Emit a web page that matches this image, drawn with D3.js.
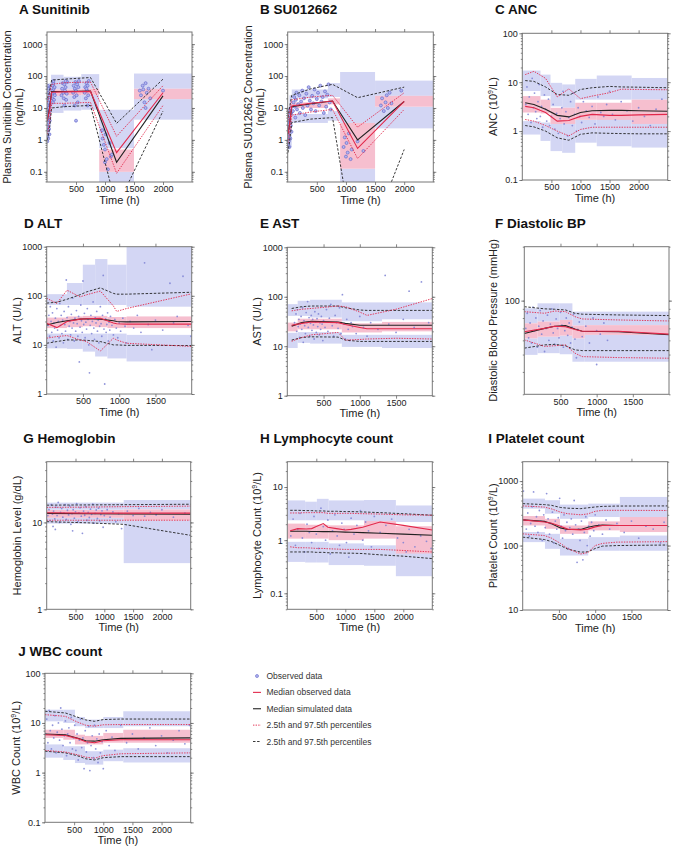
<!DOCTYPE html>
<html>
<head>
<meta charset="utf-8">
<script src="https://cdn.jsdelivr.net/npm/d3@7.9.0/dist/d3.min.js"></script>
<style>
  body { margin: 0; background: #fff; }
  text { font-family: "Liberation Sans", Arial, Helvetica, sans-serif; }
</style>
</head>
<body>
<script>
// ---------- A Sunitinib ----------
const sunitinibBins = [0, 30, 70, 285, 590, 900, 1500, 2500];
const sunitinibHiBand = [[12, 45], [20, 60], [38, 110], [38, 95], [40, 115], [0.55, 8.8], [40, 120]];
const sunitinibMedBand = [[4, 10], [8, 20], [24, 38], [25, 38], [26, 40], [0.1, 0.5], [19, 40]];
const sunitinibLoBand = [[1, 3], [2.5, 7], [7, 24], [8.3, 25], [8.8, 26], [0.03, 0.1], [4.3, 19]];
const sunitinibTimes = [5, 40, 80, 300, 750, 1200, 2000];
const sunitinibObsMedian = [4, 8, 31, 32, 33, 0.4, 30];
const sunitinibSimMedian = [4, 9, 33, 33, 34, 0.2, 24];
const sunitinibObsLow = [1.5, 3, 14, 14, 15, 0.09, 12];
const sunitinibObsHigh = [15, 25, 55, 62, 65, 1.3, 50];
const sunitinibSimLow = [1, 2, 10, 11, 12, 0.0076, 8];
const sunitinibSimHigh = [20, 30, 75, 80, 90, 3.3, 80];
const sunitinibPoints = [[2,5],[3,8],[5,3],[6,12],[8,2.5],[10,6],[12,20],[14,4],[15,9],[18,30],[20,2],[22,7],[24,15],[25,3.5],[28,45],[30,5],[32,10],[35,2.2],[38,6],[40,18],[42,1.5],[45,8],[48,4],[50,12],[55,25],[5,0.9],[10,1.2],[20,1.1],[30,40],[15,50],
  [90,20],[95,35],[100,50],[105,28],[110,60],[115,40],[120,18],[125,30],[130,45],[135,25],[100,15],[110,70],
  [250,25],[260,40],[270,60],[280,30],[290,20],[300,55],[310,35],[320,45],[330,18],[340,28],[350,65],[300,12],[320,70],
  [450,30],[460,50],[470,22],[480,40],[490,65],[500,35],[510,25],[520,55],[530,15],[540,45],[550,70],[500,4],[480,12],
  [650,30],[660,45],[670,20],[680,60],[690,35],[700,50],[710,25],[720,70],[700,12],[680,40],
  [950,2],[980,0.7],[1000,0.5],[1010,1.5],[1030,0.25],[1050,0.12],[1080,0.8],[1100,0.3],[1120,0.35],[1000,0.2],[960,1.1],
  [1600,35],[1620,25],[1650,50],[1680,15],[1700,60],[1720,30],[1750,40],[1780,20],[1700,10],[1660,38],[2000,35]];

// ---------- B SU012662 ----------
const su012662Bins = [0, 30, 70, 690, 900, 1500, 2500];
const su012662HiBand = [[3, 10], [6, 25], [20, 38], [22, 60], [3.4, 134], [24, 72]];
const su012662MedBand = [[1, 3], [2, 6], [10, 15], [13, 20], [0.125, 3.4], [11, 24]];
const su012662LoBand = [[0.5, 1], [0.6, 2], [3.4, 6.5], [4, 8], [0.01, 0.125], [2.3, 11]];
const su012662Times = [5, 30, 70, 400, 770, 1200, 2000];
const su012662ObsMedian = [1.5, 3, 11.5, 14, 16.5, 0.54, 16];
const su012662SimMedian = [1.5, 3, 11, 13.5, 16.5, 1.0, 16];
const su012662ObsLow = [0.8, 1.5, 6, 7.5, 9, 0.26, 9];
const su012662ObsHigh = [4, 8, 18, 22, 25, 2.5, 30];
const su012662SimLow = [0.4, 0.8, 3.5, 4.5, 5, 0.0001, 0.5];
const su012662SimHigh = [5, 10, 25, 40, 55, 21, 45];
const su012662Points = [[3,1],[5,2],[8,0.7],[10,3],[12,1.5],[15,5],[18,0.9],[20,2.5],[22,8],[25,1.2],[28,4],[30,0.6],[32,6],[35,2],[40,3.5],[45,1.1],[50,10],[55,2.8],[60,7],[65,1.8],
  [90,8],[100,15],[110,22],[120,11],[130,5],[140,18],[150,30],[160,9],[180,13],[200,25],[210,7],[230,16],[250,35],[260,10],[280,20],[300,6],[320,28],[340,12],[360,45],[380,17],[400,9],[420,24],[440,14],[460,38],[480,8],[500,19],[520,30],[540,12],[560,50],[580,16],[600,22],[620,7],[640,33],[660,11],[680,26],[700,55],[720,15],[740,9],
  [960,0.6],[980,1.2],[1000,0.3],[1010,0.8],[1030,0.4],[1050,1.6],[1080,0.25],[1100,0.5],[1200,0.9],[1300,0.45],
  [1600,12],[1620,20],[1650,8],[1680,15],[1700,25],[1720,10],[1750,30],[1780,14],[1950,35]];

// ---------- C ANC ----------
const ancBins = [0, 313, 485, 685, 910, 1280, 1880, 2500];
const ancHiBand = [[6.6, 17.3], [5.2, 14.3], [3.2, 9.7], [3, 9], [4.4, 11.7], [4.4, 13.7], [4.4, 12.2]];
const ancMedBand = [[2.4, 5.2], [2.3, 4.4], [1.4, 3], [1.4, 3], [1.7, 3.8], [1.7, 3.8], [1.4, 4.4]];
const ancLoBand = [[0.85, 1.6], [0.63, 1.5], [0.39, 1.4], [0.36, 1.4], [0.58, 1.7], [0.49, 1.9], [0.46, 1.7]];
const ancTimes = [50, 200, 400, 600, 800, 1000, 1200, 1500, 1700, 2000, 2500];
const ancObsMedian = [3.2, 3.0, 2.4, 1.6, 1.65, 2.0, 2.2, 2.1, 2.1, 2.15, 2.2];
const ancSimMedian = [3.8, 3.5, 2.8, 2.1, 1.95, 2.4, 2.6, 2.65, 2.65, 2.6, 2.55];
const ancObsLow = [1.73, 1.6, 1.3, 1.0, 0.8, 1.08, 1.2, 1.2, 1.2, 1.2, 1.2];
const ancObsHigh = [14.3, 16.7, 12, 5, 7.3, 4.6, 5.2, 6.1, 7.2, 7.1, 7];
const ancSimLow = [1.3, 1.22, 1.0, 0.73, 0.65, 0.86, 0.92, 0.9, 0.89, 0.88, 0.88];
const ancSimHigh = [10.8, 10.4, 8, 5.6, 5.4, 7.1, 7.7, 8.2, 8, 7.9, 7.7];
const ancPoints = [[60,3.5],[80,8],[100,2.2],[120,5],[150,1.5],[170,12],[190,3],[210,6],[230,2.5],[250,1.8],[270,4],[290,9],[310,2],[330,3.2],[350,1.2],[380,5.5],[400,2.8],[420,1.6],[450,4.5],[470,1.3],[500,2],[530,3.5],[560,1.1],[590,2.3],[620,0.9],[650,1.8],[680,3],[700,6.5],[720,1.4],[750,2.5],[780,0.8],[800,1.9],[830,4],[860,1.3],[880,6],[900,2.2],[930,1],[960,3],[990,2],[1020,1.5],[1050,4],[1100,2.6],[1150,1.9],[1200,3.2],[1250,1.4],[1300,5],[1350,2.4],[1400,2],[1450,3.5],[1500,6.5],[1550,2.2],[1600,1.7],[1700,4],[1800,2.6],[1900,1.6],[2000,3],[2100,2],[2200,1.3],[2300,2.8],[2400,4.5]];

// ---------- D ALT ----------
const altBins = [0, 279, 498, 668, 837, 1102, 2000];
const altHiBand = [[65, 108], [65, 182], [65, 430], [65, 560], [65, 430], [60, 1000]];
const altMedBand = [[22, 36], [23, 38], [24, 39], [23, 39], [22, 37], [22, 38]];
const altLoBand = [[8.5, 17], [8.3, 17], [7.3, 17], [5.8, 17], [5.3, 17], [4.6, 16]];
const altTimes = [0, 140, 280, 460, 550, 740, 920, 965, 1100, 2000];
const altObsMedian = [27.5, 22.5, 30, 33.5, 34, 35, 28, 27, 26.5, 26.5];
const altSimMedian = [25.5, 28.5, 31, 33.5, 34, 33.5, 31, 30, 29.5, 30];
const altObsLow = [13.7, 14.8, 15.5, 12.6, 11.7, 7.5, 13.7, 12.6, 10.8, 9.3];
const altObsHigh = [89, 70, 130, 95, 105, 125, 62, 48, 55, 110];
const altSimLow = [10.8, 11.7, 12.6, 12.6, 12.4, 11.7, 10, 10, 9.8, 9.7];
const altSimHigh = [71, 74, 85, 105, 120, 145, 112, 108, 108, 118];
const altPoints = [[20,25],[30,40],[40,15],[50,60],[60,30],[70,18],[80,45],[90,12],[100,28],[110,22],[120,35],[130,9],[140,55],[150,20],[160,30],[170,14],[180,70],[190,25],[200,40],[210,17],[220,32],[230,11],[240,48],[250,26],[260,19],[270,210],[280,36],[290,13],[300,60],[310,24],[320,30],[330,16],[340,42],[350,22],[360,90],[370,28],[380,12],[390,35],[400,19],[410,50],[420,27],[430,15],[440,38],[450,4.5],[460,23],[470,65],[480,31],[490,18],[500,200],[510,26],[520,44],[530,14],[540,29],[550,21],[560,55],[570,33],[580,10],[590,2.7],[600,25],[610,40],[620,17],[630,30],[640,75],[650,22],[660,13],[670,36],[680,28],[690,48],[700,19],[710,32],[720,11],[730,24],[740,60],[750,27],[760,15],[770,40],[780,260],[790,21],[800,1.6],[810,34],[820,18],[830,26],[840,45],[850,12],[860,29],[870,20],[880,38],[900,25],[920,16],[940,33],[960,22],[980,14],[1000,28],[1020,19],[1050,35],[1080,24],[1100,11],[1150,30],[1200,22],[1250,40],[1300,18],[1350,470],[1400,26],[1450,8],[1500,32],[1600,20],[1700,180],[1750,28],[1800,38],[1880,250],[1950,25],[1990,15]];

// ---------- E AST ----------
const astBins = [0, 143, 314, 752, 1306, 2000];
const astHiBand = [[41, 71], [41, 83], [38, 87], [32, 77], [35, 77]];
const astMedBand = [[20, 30], [22, 36], [22, 36], [19, 29], [20, 31]];
const astLoBand = [[9.2, 18.7], [11.7, 19.3], [11.3, 19.3], [9.7, 17], [9.2, 17]];
const astTimes = [60, 200, 330, 700, 800, 1000, 1100, 1500, 2000];
const astObsMedian = [26.5, 29, 31, 30, 27.5, 24, 22.5, 22.5, 22.5];
const astSimMedian = [25.5, 30, 32, 31, 29, 26.5, 26.5, 26.5, 26.5];
const astObsLow = [12.6, 15, 17, 19, 13.3, 13.7, 14, 14.5, 14];
const astObsHigh = [52, 56, 58, 65, 63, 49, 42, 56, 92];
const astSimLow = [13.3, 15, 15.5, 15.3, 13.3, 12.5, 12.5, 12.5, 12.5];
const astSimHigh = [58, 63, 65, 65, 60, 54, 53, 53, 53];
const astPoints = [[100,30],[120,45],[130,20],[140,55],[150,25],[160,35],[170,15],[180,28],[190,40],[200,22],[210,60],[220,12],[230,33],[240,26],[250,18],[260,48],[270,30],[280,80],[290,24],[300,38],[310,16],[320,29],[330,42],[340,21],[350,35],[360,27],[370,14],[380,50],[390,31],[400,19],[410,36],[420,25],[430,45],[440,17],[450,30],[460,22],[470,40],[480,28],[490,13],[500,33],[520,24],[540,55],[560,20],[580,37],[600,70],[620,26],[640,16],[660,42],[680,30],[700,23],[720,60],[740,18],[760,110],[780,28],[800,14],[820,35],[840,22],[860,13],[880,30],[900,25],[950,18],[1000,40],[1050,24],[1100,16],[1150,30],[1250,22],[1350,270],[1400,28],[1500,19],[1600,35],[1680,130],[1750,24],[1850,200],[1950,30]];

// ---------- F Diastolic BP ----------
const dbpBins = [0, 183, 490, 665, 835, 2000];
const dbpHiBand = [[74.7, 90.6], [76.4, 96.6], [78, 96.6], [72.6, 86.8], [73, 86.8]];
const dbpMedBand = [[61.6, 74.7], [62.9, 76.4], [63.8, 78], [61.6, 72.6], [64.4, 73]];
const dbpLoBand = [[49.8, 61.6], [50.9, 62.9], [50.2, 63.8], [45.6, 61.6], [45.6, 64.4]];
const dbpTimes = [0, 280, 420, 570, 700, 800, 1300, 2000];
const dbpObsMedian = [67, 70, 72, 71.5, 69, 67.5, 67.5, 65];
const dbpSimMedian = [65.5, 70, 72, 72.5, 69.5, 67.5, 67, 64.5];
const dbpObsLow = [60.4, 55.5, 56, 56.6, 50.9, 48.7, 48.1, 47.7];
const dbpObsHigh = [86.8, 85, 87.5, 86.8, 81.4, 79, 78, 77];
const dbpSimLow = [54.3, 56.6, 57, 56, 53.1, 52.6, 52.6, 52.6];
const dbpSimHigh = [92.5, 90, 89.5, 88.7, 85, 84, 83.2, 82.5];
const dbpPoints = [[20,70],[40,85],[60,62],[80,75],[100,58],[120,92],[140,68],[160,80],[180,55],[200,72],[220,88],[240,65],[260,77],[280,52],[300,70],[320,83],[340,60],[360,74],[380,90],[400,66],[420,57],[440,79],[460,70],[480,62],[500,86],[520,73],[540,55],[560,68],[580,80],[600,64],[620,75],[640,58],[660,71],[680,84],[700,61],[720,48],[740,69],[760,76],[800,63],[850,72],[900,58],[950,80],[1000,44],[1000,68],[1050,65],[1100,75],[1150,60]];

// ---------- G Hemoglobin ----------
const hgbBins = [0, 1337, 2500];
const hgbHiBand = [[14, 16.9], [14.1, 18.1]];
const hgbMedBand = [[11.3, 13.9], [10.6, 14.1]];
const hgbLoBand = [[9.7, 11.3], [3.4, 10.6]];
const hgbTimes = [0, 700, 1337, 2500];
const hgbObsMedian = [12.9, 12.8, 12.8, 12.8];
const hgbSimMedian = [12.7, 12.6, 12.5, 12.4];
const hgbObsLow = [10.6, 10.6, 10.6, 10.6];
const hgbObsHigh = [14.9, 15, 15.2, 15.4];
const hgbSimLow = [10.2, 9.9, 9.5, 7.1];
const hgbSimHigh = [15.8, 15.9, 16, 16.2];
const hgbPoints = [[20,12],[40,14],[60,10.5],[80,16],[100,12.5],[110,9],[120,13.5],[140,11],[160,15],[180,12],[200,17],[220,10],[240,13],[260,14.5],[280,11.5],[300,12.8],[320,16],[340,10.8],[360,13.8],[380,12.2],[400,15.5],[420,9.5],[440,12.6],[460,14],[480,11.2],[500,13.2],[520,16.5],[540,10.2],[560,12.9],[580,14.8],[600,11.8],[620,7.5],[640,13.5],[660,12.1],[680,15.2],[700,10.6],[720,13],[740,11.4],[760,14.2],[780,12.4],[800,16.2],[820,9.8],[840,12.7],[860,13.9],[880,11.1],[900,14.6],[920,10.4],[940,12.3],[960,13.6],[980,8.8],[1000,12],[1050,14],[1100,11.5],[1150,13.2],[1200,10.2],[1250,12.6],[1300,8.5],[1400,13.5],[1500,12],[1600,14.5],[1700,11.8],[1800,13],[1900,12.2],[2000,14],[2200,11.5],[2400,12.8],[150,8.3],[450,8]];

// ---------- H Lymphocyte count ----------
const lymBins = [0, 307, 510, 713, 1322, 1872, 2500];
const lymHiBand = [[2.37, 5.6], [2.37, 5.3], [2.37, 6.0], [2.37, 5.6], [2.2, 5.7], [2.2, 4.5]];
const lymMedBand = [[1.07, 2.05], [1.07, 1.95], [1.07, 1.95], [1.0, 1.9], [1.07, 2.3], [0.56, 1.83]];
const lymLoBand = [[0.39, 0.93], [0.38, 0.93], [0.38, 0.93], [0.34, 0.87], [0.33, 0.8], [0.21, 0.65]];
const lymTimes = [50, 180, 330, 420, 500, 620, 700, 850, 1000, 1100, 1300, 1600, 2000, 2500];
const lymObsMedian = [1.5, 1.65, 1.62, 1.65, 1.8, 2.05, 1.75, 1.65, 1.55, 1.6, 1.75, 2.2, 1.9, 1.55];
const lymSimMedian = [1.47, 1.47, 1.47, 1.46, 1.46, 1.45, 1.45, 1.44, 1.42, 1.41, 1.39, 1.35, 1.3, 1.24];
const lymObsLow = [0.75, 0.72, 0.72, 0.71, 0.7, 0.7, 0.69, 0.68, 0.67, 0.67, 0.67, 0.67, 0.64, 0.6];
const lymObsHigh = [3.25, 3.25, 3.3, 3.3, 3.3, 3.3, 3.2, 3.2, 3.2, 3.2, 3.15, 3.1, 3.0, 2.95];
const lymSimLow = [0.6, 0.6, 0.6, 0.6, 0.59, 0.59, 0.58, 0.58, 0.57, 0.57, 0.56, 0.53, 0.5, 0.45];
const lymSimHigh = [3.65, 3.65, 3.6, 3.6, 3.55, 3.55, 3.5, 3.5, 3.45, 3.45, 3.4, 3.3, 3.15, 2.95];
const lymPoints = [[60,1.2],[100,2.5],[140,0.8],[180,1.6],[220,3.2],[260,1.1],[300,0.6],[340,2.0],[380,1.4],[420,0.9],[460,2.8],[500,1.3],[540,0.7],[580,4.0],[620,1.8],[660,1.0],[700,2.4],[740,0.55],[780,1.5],[820,3.0],[860,1.2],[900,0.8],[940,2.1],[980,1.6],[1020,0.9],[1060,0.48],[1100,2.6],[1150,1.3],[1200,1.9],[1260,3.6],[1300,1.0],[1350,2.2],[1400,1.5],[1450,0.75],[1500,2.8],[1600,1.4],[1700,1.9],[1800,2.5],[1900,1.1],[2000,0.9],[2050,0.6],[2100,1.6],[2200,0.75],[2300,1.2],[2400,0.95],[2480,0.7]];

// ---------- I Platelet count ----------
const pltBins = [0, 307, 514, 904, 1340, 2000];
const pltHiBand = [[374, 535], [312, 505], [260, 432], [277, 447], [260, 568]];
const pltMedBand = [[205, 287], [182, 260], [152, 205], [172, 237], [162, 277]];
const pltLoBand = [[113, 162], [89, 152], [70, 127], [83, 135], [83, 143]];
const pltTimes = [0, 300, 400, 520, 620, 800, 900, 1000, 1100, 1300, 2000];
const pltObsMedian = [250, 232, 222, 200, 180, 175, 180, 195, 205, 205, 205];
const pltSimMedian = [250, 237, 218, 188, 177, 178, 192, 203, 208, 205, 205];
const pltObsLow = [152, 143, 130, 108, 90, 74, 78, 100, 108, 113, 115];
const pltObsHigh = [412, 395, 370, 330, 312, 300, 310, 340, 352, 352, 350];
const pltSimLow = [135, 124, 115, 100, 88, 79, 80, 90, 98, 100, 102];
const pltSimHigh = [447, 432, 420, 390, 380, 374, 385, 397, 405, 410, 412];
const pltPoints = [[10,700],[30,250],[50,180],[70,320],[90,140],[110,220],[130,400],[150,680],[170,200],[190,280],[210,160],[230,350],[250,240],[270,120],[290,300],[310,190],[330,640],[350,260],[370,150],[390,220],[410,330],[430,110],[450,240],[470,180],[490,270],[510,540],[530,200],[550,130],[570,300],[590,170],[610,230],[630,90],[650,190],[670,260],[690,150],[710,500],[730,210],[750,55],[770,180],[790,120],[810,240],[830,60],[850,160],[870,280],[890,100],[910,200],[930,140],[950,230],[980,170],[1000,300],[1050,210],[1100,150],[1150,250],[1200,180],[1300,220],[1400,160],[1500,240],[1600,130],[1700,200],[1800,180],[1900,110],[1950,230]];

// ---------- J WBC count ----------
const wbcBins = [0, 314, 514, 686, 1000, 1343, 2500];
const wbcHiBand = [[10.8, 18.5], [10, 18.5], [8.6, 13.2], [7.9, 11.7], [7.9, 13.2], [8.6, 17.2]];
const wbcMedBand = [[5, 7.3], [4.6, 7.3], [3.7, 5.8], [3.7, 5.5], [4.0, 6.3], [4.0, 7.3]];
const wbcLoBand = [[2.0, 3.7], [1.8, 3.4], [1.56, 3.4], [1.45, 2.7], [1.7, 2.9], [1.6, 3.1]];
const wbcTimes = [0, 350, 550, 700, 850, 1000, 1300, 2500];
const wbcObsMedian = [5.8, 5.6, 4.9, 4.2, 4.0, 4.4, 4.6, 4.6];
const wbcSimMedian = [6.0, 5.8, 5.0, 4.4, 4.3, 4.6, 4.9, 5.0];
const wbcObsLow = [2.8, 2.6, 2.3, 2.05, 1.95, 2.2, 2.4, 2.5];
const wbcObsHigh = [14.7, 13.6, 10.5, 9, 8.6, 9.2, 9.3, 9.3];
const wbcSimLow = [2.7, 2.5, 2.2, 1.9, 1.8, 2.0, 2.1, 2.1];
const wbcSimHigh = [17.2, 15.9, 13.2, 11.5, 10.8, 11.7, 12, 12];
const wbcPoints = [[10,6],[30,12],[50,4],[70,18],[90,7],[110,3],[130,9],[150,5],[170,14],[190,2.5],[210,6.5],[230,10],[250,4.5],[270,20],[290,7.5],[310,3.5],[330,5.5],[350,11],[370,2.2],[390,6],[410,8],[430,4],[450,13],[470,3],[490,5],[510,9],[530,2.8],[550,6],[570,1.8],[590,4.5],[610,12],[630,3.2],[650,5],[670,1.2],[690,7],[710,2.6],[730,4],[750,8.5],[770,1.1],[790,3.5],[810,5.5],[830,2],[850,9],[870,3],[890,4.8],[910,1.6],[930,6],[950,2.5],[980,4.2],[1000,1.2],[1050,7],[1100,3.5],[1150,5.2],[1200,2.8],[1300,9],[1400,4],[1500,6],[1600,3],[1700,5],[1800,8],[1900,3.5],[2000,5.5],[2100,2.5],[2200,4.5],[2300,7],[2400,3.8],[2480,9]];

const legendLabels = ['Observed data', 'Median observed data', 'Median simulated data',
  '2.5th and 97.5th percentiles', '2.5th and 97.5th percentiles'];

// colours
const BLUE = '#d3d6f4', PINK = '#f6bfcf', RED = '#e2284b', DARK = '#222';

// panel layout: plot box, domains and labels
const panels = [
  { title: 'A Sunitinib', tx: 19, ty: 13.5, l: 47, r: 192, t: 32, b: 182, xMax: 2500, yDom: [0.048, 2400],
    yTicks: [0.1, 1, 10, 100, 1000], xTicks: [500, 1000, 1500, 2000], ylab: ['Plasma Sunitinib Concentration', '(ng/mL)'], ylx: [10.5, 22.5], open: true,
    bins: sunitinibBins, hi: sunitinibHiBand, med: sunitinibMedBand, lo: sunitinibLoBand, times: sunitinibTimes,
    obsMed: sunitinibObsMedian, simMed: sunitinibSimMedian, obsLo: sunitinibObsLow, obsHi: sunitinibObsHigh, simLo: sunitinibSimLow, simHi: sunitinibSimHigh, pts: sunitinibPoints },
  { title: 'B SU012662', tx: 260, ty: 13.5, l: 287.7, r: 433.3, t: 32, b: 182, xMax: 2500, yDom: [0.048, 2400],
    yTicks: [0.1, 1, 10, 100, 1000], xTicks: [500, 1000, 1500, 2000], ylab: ['Plasma SU012662 Concentration', '(ng/mL)'], ylx: [251.5, 264], open: true,
    bins: su012662Bins, hi: su012662HiBand, med: su012662MedBand, lo: su012662LoBand, times: su012662Times,
    obsMed: su012662ObsMedian, simMed: su012662SimMedian, obsLo: su012662ObsLow, obsHi: su012662ObsHigh, simLo: su012662SimLow, simHi: su012662SimHigh, pts: su012662Points },
  { title: 'C ANC', tx: 495, ty: 13.5, l: 522.3, r: 667.7, t: 33.3, b: 180, xMax: 2500, yDom: [0.1, 100],
    yTicks: [0.1, 1, 10, 100], xTicks: [500, 1000, 1500, 2000], ylab: ['ANC (10|9|/L)'], ylx: [497],
    bins: ancBins, hi: ancHiBand, med: ancMedBand, lo: ancLoBand, times: ancTimes,
    obsMed: ancObsMedian, simMed: ancSimMedian, obsLo: ancObsLow, obsHi: ancObsHigh, simLo: ancSimLow, simHi: ancSimHigh, pts: ancPoints },
  { title: 'D ALT', tx: 24, ty: 227.7, l: 46.7, r: 191.7, t: 246.7, b: 394, xMax: 2000, yDom: [1, 1000],
    yTicks: [1, 10, 100, 1000], xTicks: [500, 1000, 1500], ylab: ['ALT (U/L)'], ylx: [20.5],
    bins: altBins, hi: altHiBand, med: altMedBand, lo: altLoBand, times: altTimes,
    obsMed: altObsMedian, simMed: altSimMedian, obsLo: altObsLow, obsHi: altObsHigh, simLo: altSimLow, simHi: altSimHigh, pts: altPoints },
  { title: 'E AST', tx: 260, ty: 227.7, l: 287.3, r: 432.3, t: 247.3, b: 395.7, xMax: 2000, yDom: [1, 1000],
    yTicks: [1, 10, 100, 1000], xTicks: [500, 1000, 1500], ylab: ['AST (U/L)'], ylx: [261],
    bins: astBins, hi: astHiBand, med: astMedBand, lo: astLoBand, times: astTimes,
    obsMed: astObsMedian, simMed: astSimMedian, obsLo: astObsLow, obsHi: astObsHigh, simLo: astSimLow, simHi: astSimHigh, pts: astPoints },
  { title: 'F Diastolic BP', tx: 495, ty: 227.7, l: 524.3, r: 669, t: 246.7, b: 394.3, xMax: 2000, yDom: [30, 200],
    yTicks: [100], xTicks: [500, 1000, 1500], ylab: ['Diastolic Blood Pressure (mmHg)'], ylx: [497],
    bins: dbpBins, hi: dbpHiBand, med: dbpMedBand, lo: dbpLoBand, times: dbpTimes,
    obsMed: dbpObsMedian, simMed: dbpSimMedian, obsLo: dbpObsLow, obsHi: dbpObsHigh, simLo: dbpSimLow, simHi: dbpSimHigh, pts: dbpPoints },
  { title: 'G Hemoglobin', tx: 23.3, ty: 443.3, l: 46.7, r: 190.7, t: 461.7, b: 609.3, xMax: 2500, yDom: [1, 50],
    yTicks: [1, 10], xTicks: [500, 1000, 1500, 2000], ylab: ['Hemoglobin Level (g/dL)'], ylx: [20.5],
    bins: hgbBins, hi: hgbHiBand, med: hgbMedBand, lo: hgbLoBand, times: hgbTimes,
    obsMed: hgbObsMedian, simMed: hgbSimMedian, obsLo: hgbObsLow, obsHi: hgbObsHigh, simLo: hgbSimLow, simHi: hgbSimHigh, pts: hgbPoints },
  { title: 'H Lymphocyte count', tx: 260, ty: 443.3, l: 287.3, r: 432.3, t: 461.7, b: 609.3, xMax: 2500, yDom: [0.05, 30],
    yTicks: [0.1, 1, 10], xTicks: [500, 1000, 1500, 2000], ylab: ['Lymphocyte Count (10|9|/L)'], ylx: [261],
    bins: lymBins, hi: lymHiBand, med: lymMedBand, lo: lymLoBand, times: lymTimes,
    obsMed: lymObsMedian, simMed: lymSimMedian, obsLo: lymObsLow, obsHi: lymObsHigh, simLo: lymSimLow, simHi: lymSimHigh, pts: lymPoints },
  { title: 'I Platelet count', tx: 488.3, ty: 443.3, l: 522.7, r: 667.7, t: 461.7, b: 610, xMax: 2000, yDom: [10, 2000],
    yTicks: [10, 100, 1000], xTicks: [500, 1000, 1500], ylab: ['Platelet Count (10|9|/L)'], ylx: [497],
    bins: pltBins, hi: pltHiBand, med: pltMedBand, lo: pltLoBand, times: pltTimes,
    obsMed: pltObsMedian, simMed: pltSimMedian, obsLo: pltObsLow, obsHi: pltObsHigh, simLo: pltSimLow, simHi: pltSimHigh, pts: pltPoints },
  { title: 'J WBC count', tx: 18.3, ty: 656, l: 45, r: 190.7, t: 673.3, b: 822.3, xMax: 2500, yDom: [0.1, 100],
    yTicks: [0.1, 1, 10, 100], xTicks: [500, 1000, 1500, 2000], ylab: ['WBC Count (10|9|/L)'], ylx: [19.5],
    bins: wbcBins, hi: wbcHiBand, med: wbcMedBand, lo: wbcLoBand, times: wbcTimes,
    obsMed: wbcObsMedian, simMed: wbcSimMedian, obsLo: wbcObsLow, obsHi: wbcObsHigh, simLo: wbcSimLow, simHi: wbcSimHigh, pts: wbcPoints }
];

const svg = d3.select('body').append('svg').attr('width', 673).attr('height', 847);
const defs = svg.append('defs');

const fmt = v => (v < 1 ? String(v) : d3.format('d')(v));

// log minor ticks (1..9 of every decade) inside the domain
function minorTicks(dom) {
  const out = [];
  for (let e = Math.floor(Math.log10(dom[0])); e <= Math.ceil(Math.log10(dom[1])); e++) {
    for (let m = 1; m <= 9; m++) {
      const v = m * Math.pow(10, e);
      if (v >= dom[0] && v <= dom[1]) out.push(v);
    }
  }
  return out;
}

function styleAxis(sel) {
  sel.select('.domain').remove();
  sel.selectAll('line').attr('stroke', '#666').attr('stroke-width', 0.8);
  sel.selectAll('text').attr('font-size', 9).attr('fill', '#222')
    .attr('font-family', '"Liberation Sans", Arial, sans-serif');
}

function drawPanel(p, idx) {
  const x = d3.scaleLinear().domain([0, p.xMax]).range([p.l, p.r]);
  const y = d3.scaleLog().domain(p.yDom).range([p.b, p.t]);
  const g = svg.append('g');

  defs.append('clipPath').attr('id', 'clip' + idx)
    .append('rect').attr('x', p.l).attr('y', p.t).attr('width', p.r - p.l).attr('height', p.b - p.t);
  const plot = g.append('g').attr('clip-path', `url(#clip${idx})`);

  // binned confidence bands: blue for the simulated percentiles, pink for the median
  [[p.hi, BLUE], [p.lo, BLUE], [p.med, PINK]].forEach(([band, col]) => {
    plot.append('g').selectAll('rect')
      .data(band.map((b, i) => ({ x0: p.bins[i], x1: p.bins[i + 1], lo: b[0], hi: b[1] })))
      .join('rect')
      .attr('x', d => x(d.x0))
      .attr('width', d => x(d.x1) - x(d.x0))
      .attr('y', d => y(d.hi))
      .attr('height', d => y(d.lo) - y(d.hi))
      .attr('fill', col);
  });

  // observed data
  const dots = plot.append('g').selectAll('circle').data(p.pts).join('circle')
    .attr('cx', d => x(d[0])).attr('cy', d => y(d[1]));
  if (p.open) {
    dots.attr('r', 1.5).attr('fill', '#b3b6ee').attr('stroke', '#5a60c8').attr('stroke-width', 0.6);
  } else {
    dots.attr('r', 0.9).attr('fill', '#7c81d4').attr('opacity', 0.85);
  }

  // percentile and median lines
  const line = d3.line().x((d, i) => x(p.times[i])).y(d => y(d));
  const series = [
    [p.simHi, DARK, '2.5,1.6', 0.9], [p.simLo, DARK, '2.5,1.6', 0.9],
    [p.obsHi, RED, '1.4,1.2', 0.9], [p.obsLo, RED, '1.4,1.2', 0.9],
    [p.simMed, DARK, null, 1.1], [p.obsMed, RED, null, 1.1]
  ];
  series.forEach(([vals, col, dash, w]) => {
    plot.append('path').attr('d', line(vals)).attr('fill', 'none')
      .attr('stroke', col).attr('stroke-width', w).attr('stroke-dasharray', dash);
  });

  // frame + axes
  g.append('rect').attr('x', p.l).attr('y', p.t).attr('width', p.r - p.l).attr('height', p.b - p.t)
    .attr('fill', 'none').attr('stroke', '#777').attr('stroke-width', 1);

  const minors = minorTicks(p.yDom);
  g.append('g').attr('transform', `translate(0,${p.b})`)
    .call(d3.axisBottom(x).tickValues(p.xTicks).tickSize(3).tickPadding(1).tickFormat(d3.format('d'))).call(styleAxis);
  g.append('g').attr('transform', `translate(0,${p.t})`)
    .call(d3.axisTop(x).tickValues(p.xTicks).tickSize(3).tickFormat('')).call(styleAxis);
  g.append('g').attr('transform', `translate(${p.l},0)`)
    .call(d3.axisLeft(y).tickValues(p.yTicks).tickSize(3).tickPadding(1.5).tickFormat(fmt)).call(styleAxis);
  g.append('g').attr('transform', `translate(${p.l},0)`)
    .call(d3.axisLeft(y).tickValues(minors).tickSize(1.5).tickFormat('')).call(styleAxis);
  g.append('g').attr('transform', `translate(${p.r},0)`)
    .call(d3.axisRight(y).tickValues(p.yTicks).tickSize(3).tickFormat('')).call(styleAxis);
  g.append('g').attr('transform', `translate(${p.r},0)`)
    .call(d3.axisRight(y).tickValues(minors).tickSize(1.5).tickFormat('')).call(styleAxis);

  // title
  g.append('text').attr('x', p.tx).attr('y', p.ty).attr('font-size', 13.5)
    .attr('font-weight', 'bold').attr('fill', '#111').text(p.title);

  // x label
  g.append('text').attr('x', (p.l + p.r) / 2).attr('y', p.b + 21.5).attr('text-anchor', 'middle')
    .attr('font-size', 11).attr('fill', '#222').text('Time (h)');

  // y label (rotated, "|9|" marks a superscript 9)
  const cy = (p.t + p.b) / 2;
  p.ylab.forEach((lab, k) => {
    const t = g.append('text').attr('transform', `translate(${p.ylx[k]},${cy}) rotate(-90)`)
      .attr('text-anchor', 'middle').attr('font-size', 11).attr('fill', '#222');
    const parts = lab.split('|');
    if (parts.length === 3) {
      t.append('tspan').text(parts[0]);
      t.append('tspan').attr('dy', -4).attr('font-size', 7).text(parts[1]);
      t.append('tspan').attr('dy', 4).text(parts[2]);
    } else {
      t.text(lab);
    }
  });
}

panels.forEach(drawPanel);

// legend
const lg = svg.append('g');
const ly = d3.scalePoint().domain(d3.range(legendLabels.length)).range([676, 741.5]);
legendLabels.forEach((lab, i) => {
  const yy = ly(i);
  if (i === 0) {
    lg.append('circle').attr('cx', 257).attr('cy', yy).attr('r', 1.5)
      .attr('fill', '#b3b6ee').attr('stroke', '#5a60c8').attr('stroke-width', 0.6);
  } else {
    const col = (i === 1 || i === 3) ? RED : DARK;
    const dash = i === 3 ? '1.4,1.2' : i === 4 ? '2.5,1.6' : null;
    lg.append('line').attr('x1', 253).attr('x2', 261).attr('y1', yy).attr('y2', yy)
      .attr('stroke', col).attr('stroke-width', i < 3 ? 1.1 : 0.9).attr('stroke-dasharray', dash);
  }
  lg.append('text').attr('x', 266.5).attr('y', yy + 3).attr('font-size', 8.5).attr('fill', '#333').text(lab);
});
</script>
</body>
</html>
